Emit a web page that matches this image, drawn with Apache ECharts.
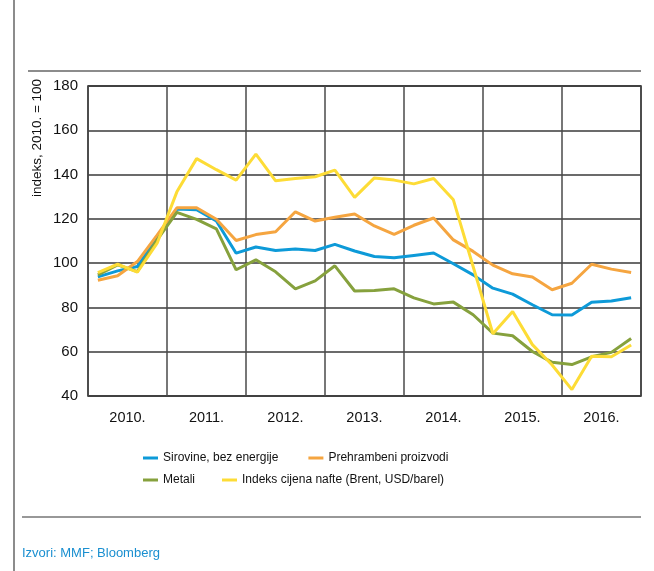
<!DOCTYPE html>
<html>
<head>
<meta charset="utf-8">
<script src="https://cdn.jsdelivr.net/npm/echarts@6/dist/echarts.min.js"></script>
<style>
  html, body { margin: 0; padding: 0; background: #fff; }
  #chart { width: 654px; height: 571px; }
</style>
</head>
<body>
<div id="chart"></div>
<script>
// years shown on the axis, data is quarterly (4 points per year)
var years = ["2010.", "2011.", "2012.", "2013.", "2014.", "2015.", "2016."];
var quarters = [];
years.forEach(function (y) {
  for (var q = 1; q <= 4; q++) quarters.push(y + " Q" + q);
});

var yTicks = { min: 40, max: 180, step: 20 };

var sirovine = [93.8, 96.5, 98.5, 111.2, 124.4, 124.1, 119, 104.5,
  107.3, 105.7, 106.4, 105.7, 108.5, 105.5, 103, 102.4,
  103.5, 104.6, 99.7, 94.7, 88.7, 86, 81.2, 76.7,
  76.6, 82.3, 82.9, 84.4];
var prehrambeni = [92.3, 94.3, 100.7, 112.7, 125, 125, 119.8, 110.2,
  112.9, 114.2, 123.2, 119, 120.7, 122.2, 116.8, 113,
  117.1, 120.4, 110.5, 105.3, 99.1, 95.2, 93.7, 88,
  90.9, 99.5, 97.3, 95.8];
var metali = [94.7, 99.2, 96.2, 110.5, 122.9, 119.8, 115.5, 97,
  101.5, 96.1, 88.4, 92, 98.8, 87.4, 87.6, 88.4,
  84.3, 81.6, 82.4, 76.7, 68.4, 67.2, 60.1, 55.2,
  54.2, 57.7, 59.7, 66];
var nafta = [95.7, 99.5, 95.9, 109, 132.2, 147.2, 142.2, 137.5,
  149.2, 137.2, 138.2, 139, 142, 129.7, 138.5, 137.5,
  135.8, 138.2, 128.6, 98.5, 68.1, 78.2, 63.2, 54,
  42.9, 58, 57.7, 63];

var names = ["Sirovine, bez energije", "Prehrambeni proizvodi", "Metali", "Indeks cijena nafte (Brent, USD/barel)"];
var colors = ["#0d9ad8", "#f5a540", "#86a13d", "#fddc36"];
var font = "'Liberation Sans', Arial, sans-serif";

var chart = echarts.init(document.getElementById("chart"));

function line(i, data) {
  return {
    name: names[i],
    type: "line",
    xAxisIndex: 0,
    data: data,
    symbol: "none",
    color: colors[i],
    lineStyle: { width: 3, color: colors[i] },
    z: 3 + i
  };
}

var legendBase = {
  left: 143,
  padding: 0,
  icon: "rect",
  itemWidth: 15,
  itemHeight: 3,
  textStyle: { fontFamily: font, fontSize: 12, color: "#111" },
  selectedMode: false
};

chart.setOption({
  animation: false,
  grid: {
    left: 88, right: 13, top: 86, bottom: 175,
    show: true, borderColor: "#222", borderWidth: 1.5
  },
  xAxis: [
    {
      type: "category",
      data: quarters,
      boundaryGap: true,
      show: false
    },
    {
      type: "category",
      data: years,
      position: "bottom",
      boundaryGap: true,
      axisLine: { show: false },
      axisTick: { show: false },
      axisLabel: { fontFamily: font, fontSize: 14.5, color: "#111", margin: 14 },
      splitLine: { show: true, lineStyle: { color: "#4a4a4a", width: 1.5 } }
    }
  ],
  yAxis: {
    type: "value",
    min: yTicks.min,
    max: yTicks.max,
    interval: yTicks.step,
    axisLine: { show: false },
    axisTick: { show: false },
    axisLabel: { fontFamily: font, fontSize: 15, color: "#111", margin: 10 },
    splitLine: { lineStyle: { color: "#3a3a3a", width: 1.5 } }
  },
  legend: [
    Object.assign({}, legendBase, { top: 452, itemGap: 30, data: [names[0], names[1]] }),
    Object.assign({}, legendBase, { top: 474, itemGap: 27, data: [names[2], names[3]] })
  ],
  graphic: [
    { type: "line", shape: { x1: 14, y1: 0, x2: 14, y2: 571 }, style: { stroke: "#666", lineWidth: 1.5 } },
    { type: "line", shape: { x1: 28, y1: 71, x2: 641, y2: 71 }, style: { stroke: "#666", lineWidth: 1.5 } },
    { type: "line", shape: { x1: 22, y1: 517, x2: 641, y2: 517 }, style: { stroke: "#333", lineWidth: 1.2 } },
    {
      type: "text", x: 37, y: 138, rotation: Math.PI / 2,
      style: { text: "indeks, 2010. = 100", fontFamily: font, fontSize: 13.5, fill: "#111",
        textAlign: "center", textVerticalAlign: "middle" }
    },
    {
      type: "text", x: 22, y: 553,
      style: { text: "Izvori: MMF; Bloomberg", fontFamily: font, fontSize: 13, fill: "#1a8fd0",
        textAlign: "left", textVerticalAlign: "middle" }
    }
  ],
  series: [
    line(0, sirovine),
    line(1, prehrambeni),
    line(2, metali),
    line(3, nafta)
  ]
});
</script>
</body>
</html>
